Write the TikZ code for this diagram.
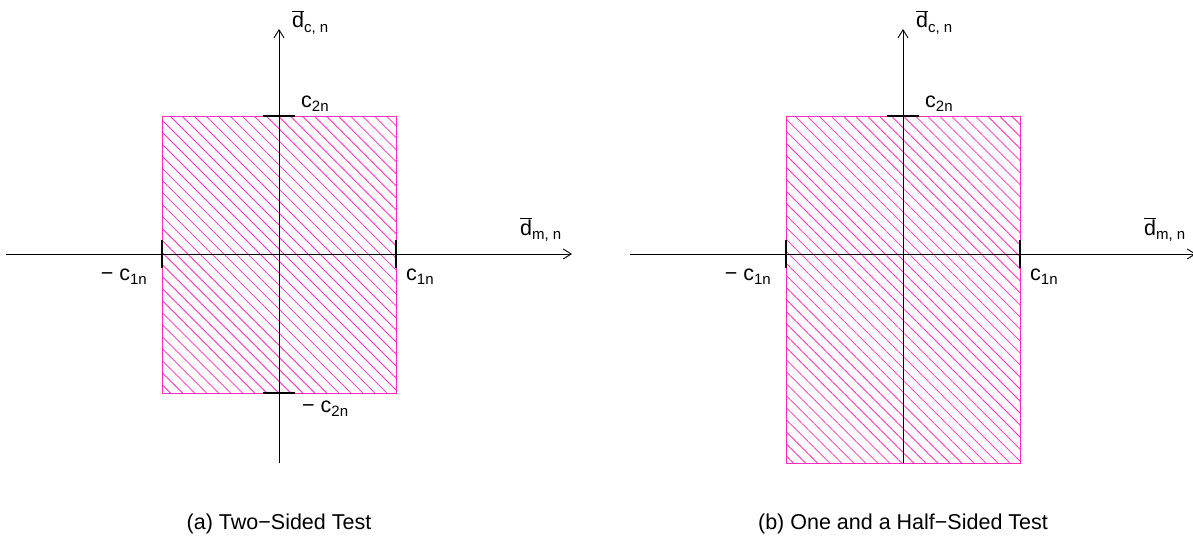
\documentclass[tikz,border=0pt]{standalone}
\usepackage{fontspec}
\setmainfont{Liberation Sans}
\usetikzlibrary{arrows.meta,patterns.meta}
\definecolor{hatchpink}{RGB}{255,45,190}
\newcommand{\sbs}[1]{\raisebox{-0.22em}{\fontsize{15}{15}\selectfont #1}}
\newcommand{\dbar}{$\overline{\hbox{d}}$}

\begin{document}
\begin{tikzpicture}[x=1pt, y=-1pt]
	\tikzset{ axis/.style={line width=0.9pt, -{Straight Barb[length=8pt, width=10pt]}},
		tick/.style={line width=2.2pt},
		region/.style={draw=hatchpink, line width=0.9pt, pattern={Lines[angle=-45, distance=8.5pt, line width=0.8pt]}, pattern color=hatchpink},
		lbl/.style={inner sep=0pt, font=\fontsize{21.5}{25}\selectfont} }
	\useasboundingbox (0,0) rectangle (1193,535);
	\foreach \cx/\by/\lo/\capt [count=\p] in {279/393/1/{(a) Two−Sided Test}, 903/463/0/{(b) One and a Half−Sided Test}} {
			\coordinate (bl\p) at (\cx-117,\by);
			\coordinate (tr\p) at (\cx+117,116);
			\draw[region] (bl\p) rectangle (tr\p);
			\coordinate (w\p) at (\cx-273,254);
			\coordinate (e\p) at (\cx+293,254);
			\coordinate (s\p) at (\cx,463);
			\coordinate (n\p) at (\cx,29);
			\draw[axis] (w\p) -- (e\p);
			\draw[axis] (s\p) -- (n\p);
			\draw[tick] (\cx-16,116) -- (\cx+16,116);
			\draw[tick] (\cx-117,240) -- (\cx-117,268);
			\draw[tick] (\cx+117,240) -- (\cx+117,268);
			\node[lbl, anchor=base west] (dc\p) at (\cx+13,28) {\dbar\sbs{c, n}};
			\node[lbl, anchor=base west] (ct\p) at (\cx+22,107) {c\sbs{2n}};
			\ifnum\lo=1
				\draw[tick] (\cx-16,393) -- (\cx+16,393);
				\node[lbl, anchor=base west] (cb\p) at (\cx+23,412) {− c\sbs{2n}};
			\fi
			\node[lbl, anchor=base east] (cl\p) at (\cx-132,280) {− c\sbs{1n}};
			\node[lbl, anchor=base west] (cr\p) at (\cx+127,280) {c\sbs{1n}};
			\node[lbl, anchor=base west] (dm\p) at (\cx+241,235) {\dbar\sbs{m, n}};
			\node[lbl, anchor=base] (cap\p) at (\cx,529) {\capt};
		}
\end{tikzpicture}
\end{document}
